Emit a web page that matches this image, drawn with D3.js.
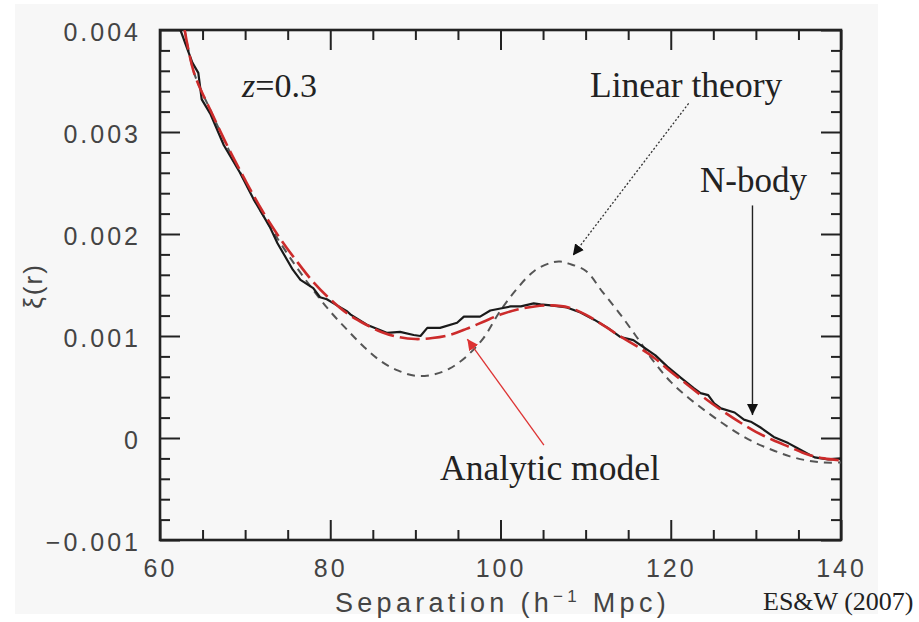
<!DOCTYPE html>
<html>
<head>
<meta charset="utf-8">
<script src="https://cdn.jsdelivr.net/npm/d3@7"></script>
<style>
  body { margin: 0; background: #fff; }
  .tick text { font-family: "Liberation Sans", Arial, sans-serif; font-size: 25px; fill: #444; letter-spacing: 3px; }
  .serif { font-family: "Liberation Serif", "Times New Roman", serif; fill: #222; }
</style>
</head>
<body>
<div id="chart"></div>
<script>
// N-body measurement (black, jagged)
const nbodyR = [62.4, 63.8, 64.5, 64.9, 65.9, 67.5, 69.4, 71, 72.9, 73.8, 75.6, 76.5, 78, 78.8, 79.6, 80.4, 82, 82.4, 84.3, 86.7,
  88.2, 89.8, 90.6, 91.4, 92.9, 94.9, 95.7, 97.6, 98.8, 100, 101.2, 102.4, 103.9, 104.7, 105.9, 107.8, 109.4, 111, 112.6, 114.1,
  115.6, 116.8, 118.2, 119.6, 121.2, 122.7, 123.5, 124.4, 125.1, 125.9, 127.5, 128.6, 129.4, 130.6, 132.1, 133.8, 134.9, 136.9, 138.5, 140];
const nbodyXi = [0.0040, 0.00368, 0.00358, 0.00332, 0.00318, 0.00287, 0.00260, 0.00234, 0.00207, 0.00191, 0.00165, 0.00155, 0.00147, 0.00138, 0.00136, 0.00132, 0.00124, 0.00121, 0.00111, 0.00103,
  0.00104, 0.00101, 0.00100, 0.00108, 0.00108, 0.00113, 0.00119, 0.00119, 0.00125, 0.00127, 0.00129, 0.00129, 0.00132, 0.00131, 0.00130, 0.00128, 0.00123, 0.00116, 0.00108, 0.00099,
  0.00096, 0.00089, 0.00081, 0.00070, 0.00059, 0.00049, 0.00044, 0.00042, 0.00034, 0.00029, 0.00025, 0.00018, 0.00016, 0.00010, 0.00001, -0.00005, -0.00010, -0.00019, -0.00021, -0.00020];

// analytic model (red long dashes)
const modelR = [62.9, 64, 66, 68, 70, 72, 74, 76, 78, 80, 82, 84, 86, 88, 90, 92, 94, 96, 98, 100,
  102, 104, 106, 108, 110, 112, 114, 116, 118, 120, 122, 124, 126, 128, 130, 132, 134, 136, 138, 140];
const modelXi = [0.0040, 0.00358, 0.00320, 0.00285, 0.00253, 0.00223, 0.00197, 0.00174, 0.00153, 0.00136, 0.00122, 0.00112, 0.00104, 0.00099, 0.00097, 0.00098, 0.00101, 0.00107, 0.00114, 0.00121,
  0.00126, 0.00129, 0.00130, 0.00128, 0.00121, 0.00111, 0.00100, 0.00090, 0.00079, 0.00065, 0.00052, 0.00039, 0.00027, 0.00016, 0.00006, -0.00002, -0.00009, -0.00016, -0.00020, -0.00022];

// linear theory (grey short dashes)
const linearR = [62.9, 64, 66, 68, 70, 72, 74, 76, 78, 80, 82, 84, 86, 88, 90, 92, 94, 96, 98, 100,
  102, 104, 106, 107, 108, 110, 112, 114, 116, 118, 120, 122, 124, 126, 128, 130, 132, 134, 136, 138, 140];
const linearXi = [0.0040, 0.00358, 0.00320, 0.00284, 0.00251, 0.00220, 0.00193, 0.00168, 0.00145, 0.00124, 0.00106, 0.00089, 0.00075, 0.00066, 0.00061, 0.00062, 0.00068, 0.00080, 0.00098, 0.00125,
  0.00147, 0.00164, 0.00172, 0.00173, 0.00171, 0.00164, 0.00143, 0.00122, 0.00099, 0.00075, 0.00055, 0.00040, 0.00027, 0.00015, 0.00004, -0.00005, -0.00012, -0.00018, -0.00022, -0.00024, -0.00024];

const xMajor = [60, 80, 100, 120, 140];
const yMajor = [-0.001, 0, 0.001, 0.002, 0.003, 0.004];

const W = 919, H = 622;
const mL = 160, mR = 841, mT = 30, mB = 540;

const svg = d3.select("#chart").append("svg")
  .attr("width", W).attr("height", H);

// light grey panel behind the figure
svg.append("rect").attr("x", 15).attr("y", 4).attr("width", 863).attr("height", 610).attr("fill", "#f7f7f7");

const x = d3.scaleLinear().domain([60, 140]).range([mL, mR]);
const y = d3.scaleLinear().domain([-0.001, 0.004]).range([mB, mT]);

const xMinor = d3.range(60, 141, 5).filter(d => !xMajor.includes(d));
const yMinor = d3.range(-10, 41, 2).map(d => d / 10000).filter(d => !yMajor.some(m => Math.abs(m - d) < 1e-9));

const fmtY = d => Math.abs(d) < 1e-12 ? "0" : d3.format(".3f")(d);

function clean(g) { g.select(".domain").remove(); g.selectAll("line").attr("stroke", "#222").attr("stroke-width", 2); }

// bottom
svg.append("g").attr("transform", `translate(0,${mB})`)
  .call(d3.axisBottom(x).tickValues(xMajor).tickSize(-20).tickPadding(19).tickFormat(d3.format("d"))).call(clean);
svg.append("g").attr("transform", `translate(0,${mB})`)
  .call(d3.axisBottom(x).tickValues(xMinor).tickSize(-10).tickFormat("")).call(clean);
// top
svg.append("g").attr("transform", `translate(0,${mT})`)
  .call(d3.axisTop(x).tickValues(xMajor).tickSize(-20).tickFormat("")).call(clean);
svg.append("g").attr("transform", `translate(0,${mT})`)
  .call(d3.axisTop(x).tickValues(xMinor).tickSize(-10).tickFormat("")).call(clean);
// left
svg.append("g").attr("transform", `translate(${mL},0)`)
  .call(d3.axisLeft(y).tickValues(yMajor).tickSize(-20).tickPadding(19).tickFormat(fmtY)).call(clean)
  .selectAll("text").attr("dy", "0.42em");
svg.append("g").attr("transform", `translate(${mL},0)`)
  .call(d3.axisLeft(y).tickValues(yMinor).tickSize(-10).tickFormat("")).call(clean);
// right
svg.append("g").attr("transform", `translate(${mR},0)`)
  .call(d3.axisRight(y).tickValues(yMajor).tickSize(-20).tickFormat("")).call(clean);
svg.append("g").attr("transform", `translate(${mR},0)`)
  .call(d3.axisRight(y).tickValues(yMinor).tickSize(-10).tickFormat("")).call(clean);

// frame
svg.append("rect").attr("x", mL).attr("y", mT).attr("width", mR - mL).attr("height", mB - mT)
  .attr("fill", "none").attr("stroke", "#222").attr("stroke-width", 2.6);

svg.append("clipPath").attr("id", "clip").append("rect")
  .attr("x", mL).attr("y", mT).attr("width", mR - mL).attr("height", mB - mT);

const plot = svg.append("g").attr("clip-path", "url(#clip)");

const smooth = d3.line().x(d => x(d[0])).y(d => y(d[1])).curve(d3.curveCatmullRom);
const jagged = d3.line().x(d => x(d[0])).y(d => y(d[1]));

plot.append("path").datum(d3.zip(linearR, linearXi)).attr("d", smooth)
  .attr("fill", "none").attr("stroke", "#555").attr("stroke-width", 2).attr("stroke-dasharray", "8,6");
plot.append("path").datum(d3.zip(nbodyR, nbodyXi)).attr("d", jagged)
  .attr("fill", "none").attr("stroke", "#1a1a1a").attr("stroke-width", 2.2).attr("stroke-linejoin", "round");
plot.append("path").datum(d3.zip(modelR, modelXi)).attr("d", smooth)
  .attr("fill", "none").attr("stroke", "#cc2b2b").attr("stroke-width", 2.6).attr("stroke-dasharray", "20,6");

// arrows
const defs = svg.append("defs");
function head(id, color) {
  defs.append("marker").attr("id", id).attr("viewBox", "0 0 10 10").attr("refX", 10).attr("refY", 5)
    .attr("markerWidth", 11).attr("markerHeight", 11).attr("markerUnits", "userSpaceOnUse").attr("orient", "auto")
    .append("path").attr("d", "M0,0L10,5L0,10Z").attr("fill", color);
}
head("hk", "#111");
head("hr", "#d33");

svg.append("line").attr("x1", x(122.1)).attr("y1", y(0.00328)).attr("x2", x(108.5)).attr("y2", y(0.00179))
  .attr("stroke", "#333").attr("stroke-width", 1.3).attr("stroke-dasharray", "2,2").attr("marker-end", "url(#hk)");
svg.append("line").attr("x1", x(129.6)).attr("y1", y(0.00228)).attr("x2", x(129.6)).attr("y2", y(0.000225))
  .attr("stroke", "#222").attr("stroke-width", 1.4).attr("marker-end", "url(#hk)");
svg.append("line").attr("x1", x(105.1)).attr("y1", y(-0.00007)).attr("x2", x(96.1)).attr("y2", y(0.00097))
  .attr("stroke", "#d33").attr("stroke-width", 1.3).attr("marker-end", "url(#hr)");

// labels
const zt = svg.append("text").attr("class", "serif").attr("x", 242).attr("y", 97).attr("font-size", 34);
zt.append("tspan").attr("font-style", "italic").text("z");
zt.append("tspan").text("=0.3");
svg.append("text").attr("class", "serif").attr("x", 590).attr("y", 97).attr("font-size", 35.5).text("Linear theory");
svg.append("text").attr("class", "serif").attr("x", 700).attr("y", 192).attr("font-size", 35).text("N-body");
svg.append("text").attr("class", "serif").attr("x", 440).attr("y", 480).attr("font-size", 35.5).text("Analytic model");
svg.append("text").attr("class", "serif").attr("x", 763).attr("y", 610).attr("font-size", 26).text("ES&W (2007)");

const xl = svg.append("text").attr("x", 335).attr("y", 612)
  .attr("font-family", "Liberation Sans, Arial, sans-serif").attr("font-size", 27).attr("fill", "#444")
  .attr("letter-spacing", "4.3px");
xl.append("tspan").text("Separation (h");
xl.append("tspan").attr("dy", -10).attr("font-size", 17).text("−1");
xl.append("tspan").attr("dy", 10).text(" Mpc)");

svg.append("text").attr("transform", "translate(42,286) rotate(-90)").attr("text-anchor", "middle")
  .attr("font-family", "Liberation Sans, Arial, sans-serif").attr("font-size", 26).attr("fill", "#444")
  .attr("letter-spacing", "2px").text("ξ(r)");
</script>
</body>
</html>
